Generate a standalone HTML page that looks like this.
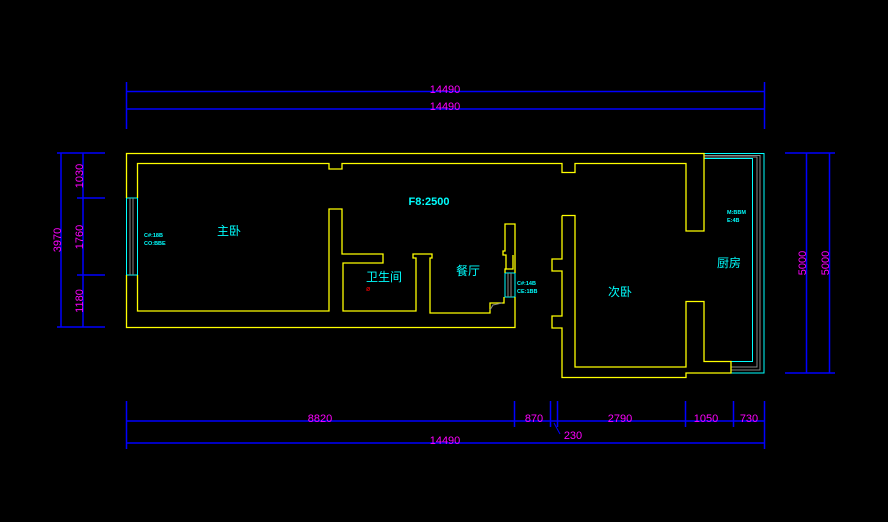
<!DOCTYPE html>
<html><head><meta charset="utf-8"><style>
html,body{margin:0;padding:0;background:#000;}
svg{display:block;}
text{font-family:"Liberation Sans","Noto Sans CJK SC",sans-serif;}
</style></head><body>
<svg width="888" height="522" viewBox="0 0 888 522" xmlns="http://www.w3.org/2000/svg">
<rect width="888" height="522" fill="#000"/>
<!-- top dims -->
<g stroke="#0000ff" stroke-width="1.5" fill="none">
<line x1="126" y1="91.5" x2="765" y2="91.5"/>
<line x1="126" y1="109" x2="765" y2="109"/>
<line x1="126.5" y1="82" x2="126.5" y2="129"/>
<line x1="764.5" y1="82" x2="764.5" y2="129"/>
<!-- bottom dims -->
<line x1="126" y1="421" x2="765" y2="421"/>
<line x1="126" y1="443" x2="765" y2="443"/>
<line x1="126.5" y1="401" x2="126.5" y2="449"/>
<line x1="764.5" y1="401" x2="764.5" y2="449"/>
<line x1="514.5" y1="401" x2="514.5" y2="427"/>
<line x1="550.5" y1="401" x2="550.5" y2="427"/>
<line x1="557.5" y1="401" x2="557.5" y2="427"/>
<line x1="685.5" y1="401" x2="685.5" y2="427"/>
<line x1="733.5" y1="401" x2="733.5" y2="427"/>
<line x1="554" y1="423" x2="560" y2="434" stroke-width="1"/>
<!-- left dims -->
<line x1="61" y1="153" x2="61" y2="327"/>
<line x1="83" y1="153" x2="83" y2="327"/>
<line x1="57" y1="153" x2="105" y2="153"/>
<line x1="57" y1="327" x2="105" y2="327"/>
<line x1="77" y1="198" x2="105" y2="198"/>
<line x1="77" y1="275" x2="105" y2="275"/>
<!-- right dims -->
<line x1="806.5" y1="153" x2="806.5" y2="373"/>
<line x1="829.5" y1="153" x2="829.5" y2="373"/>
<line x1="785" y1="153" x2="835" y2="153"/>
<line x1="785" y1="373" x2="835" y2="373"/>
</g>
<g fill="#ff00ff" font-size="11" text-anchor="middle">
<text x="445" y="93">14490</text>
<text x="445" y="110">14490</text>
<text x="320" y="422">8820</text>
<text x="534" y="422">870</text>
<text x="620" y="422">2790</text>
<text x="706" y="422">1050</text>
<text x="749" y="422">730</text>
<text x="573" y="439">230</text>
<text x="445" y="444">14490</text>
<text transform="translate(61,240) rotate(-90)">3970</text>
<text transform="translate(83,176) rotate(-90)">1030</text>
<text transform="translate(83,237) rotate(-90)">1760</text>
<text transform="translate(83,301) rotate(-90)">1180</text>
<text transform="translate(806,263) rotate(-90)">5000</text>
<text transform="translate(829,263) rotate(-90)">5000</text>
</g>
<!-- balcony cyan -->
<g fill="none">
<polyline points="704,153.5 764,153.5 764,373 731,373" stroke="#00ffff" stroke-width="1"/>
<polyline points="704,155.5 760,155.5 760,370 731,370" stroke="#888" stroke-width="1"/>
<polyline points="704,157 757,157 757,367 731,367" stroke="#888" stroke-width="1"/>
<polyline points="704,158.5 752.5,158.5 752.5,361.5 731,361.5" stroke="#00ffff" stroke-width="1"/>
</g>
<!-- windows -->
<rect x="126.5" y="198" width="11" height="77" fill="none" stroke="#00ffff" stroke-width="1"/>
<line x1="130" y1="198" x2="130" y2="275" stroke="#888"/>
<line x1="133" y1="198" x2="133" y2="275" stroke="#888"/>
<rect x="505" y="273" width="10" height="24" fill="none" stroke="#00ffff" stroke-width="1"/>
<line x1="508" y1="273" x2="508" y2="297" stroke="#888"/>
<line x1="511" y1="273" x2="511" y2="297" stroke="#888"/>
<!-- walls yellow -->
<g fill="none" stroke="#ffff00" stroke-width="1.3">
<polyline points="126.5,198 126.5,153.5 704,153.5 704,231 686,231 686,163.5 575,163.5 575,172.5 562,172.5 562,163.5 342,163.5 342,169 329,169 329,163.5 137.5,163.5 137.5,198"/>
<polyline points="126.5,275 126.5,327.5 515,327.5 515,297"/>
<polyline points="137.5,275 137.5,311 329,311 329,209 342,209 342,254 383,254 383,263 343,263 343,311 416,311 416,258 413,258 413,254 432,254 432,258 430,258 430,313 490,313 490,303 504,303 504,297"/>
<polyline points="505,273 505,269 506,269 506,255 503,255 503,251 505,251 505,224 515,224 515,273"/>
<polyline points="505,269 513,269 513,255"/>
<polyline points="562,215.5 575,215.5 575,367 686,367 686,301.5 704,301.5 704,361.5 731,361.5 731,373 686,373 686,377.5 562,377.5 562,328 552,328 552,316 562,316 562,271 552,271 552,259 562,259 562,215.5"/>
</g>
<polyline points="490,310 493,305 502,303" fill="none" stroke="#888" stroke-width="1"/>
<!-- labels -->
<g fill="#00ffff" font-size="12" text-anchor="middle">
<text x="229" y="235">主卧</text>
<text x="384" y="281">卫生间</text>
<text x="468" y="275">餐厅</text>
<text x="620" y="296">次卧</text>
<text x="729" y="267">厨房</text>
<text x="429" y="205" font-size="11" font-weight="bold">F8:2500</text>
</g>
<g fill="#00ffff" font-size="5.5" font-weight="bold">
<text x="144" y="237">C#:18B</text>
<text x="144" y="245">CO:BBE</text>
<text x="517" y="285">C#:14B</text>
<text x="517" y="293">CE:1BB</text>
<text x="727" y="214">M:BBM</text>
<text x="727" y="222">E:4B</text>
</g>
<text x="366" y="291" fill="#ff0000" font-size="7">ø</text>
</svg>
</body></html>
